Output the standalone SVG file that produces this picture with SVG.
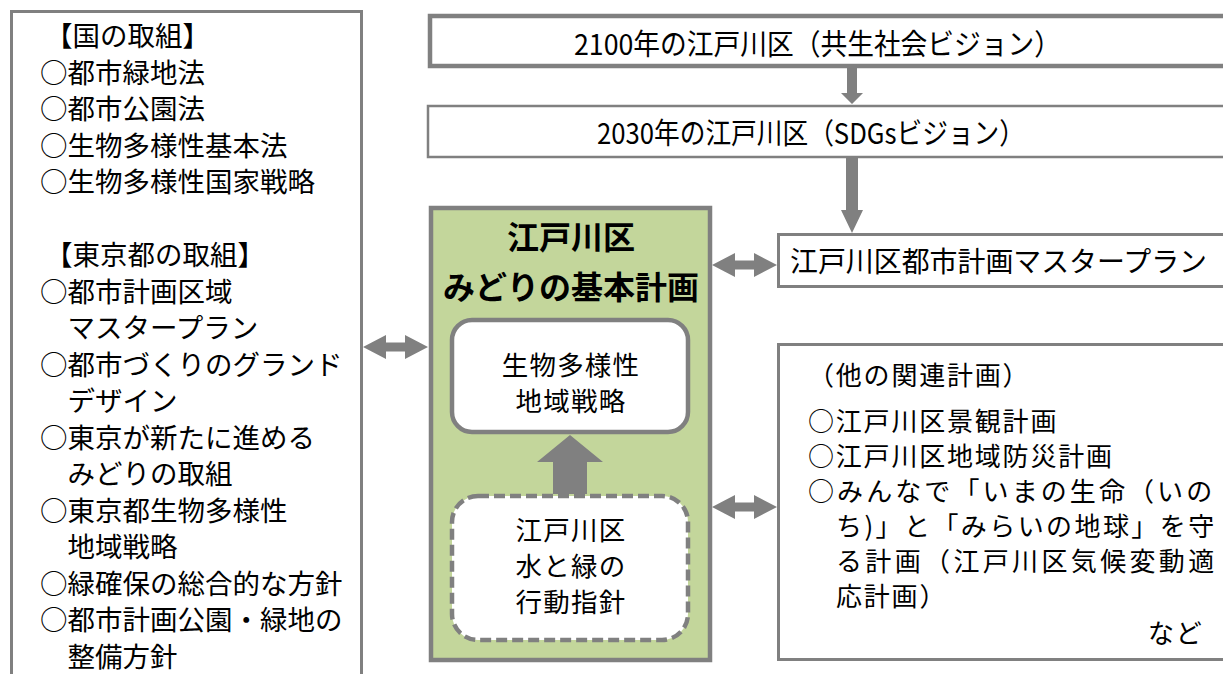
<svg xmlns="http://www.w3.org/2000/svg" width="1223" height="674" viewBox="0 0 1223 674">
<style>
text{font-family:"Noto Sans CJK JP","Noto Sans",sans-serif;fill:#000}
.box{fill:#fff;stroke:#808080}
.l{font-size:27.5px}
.r{font-size:26px;letter-spacing:1.8px}
.c{font-size:26.5px;letter-spacing:1.2px;text-anchor:middle}
.t{font-size:32px;font-weight:bold;text-anchor:middle}
.top{font-size:29px}
.arr{fill:#808080}
</style>
<rect width="1223" height="674" fill="#fff"/>

<g id="node-national-tokyo">
<rect class="box" x="11.5" y="11.5" width="350" height="700" stroke-width="3"/>
<text class="l" x="45" y="46">【国の取組】</text>
<text class="l" x="40" y="82.5">○都市緑地法</text>
<text class="l" x="40" y="119">○都市公園法</text>
<text class="l" x="40" y="155.5">○生物多様性基本法</text>
<text class="l" x="40" y="192">○生物多様性国家戦略</text>
<text class="l" x="45" y="265">【東京都の取組】</text>
<text class="l" x="40" y="301.5">○都市計画区域</text>
<text class="l" x="67.5" y="338">マスタープラン</text>
<text class="l" x="40" y="374.5">○都市づくりのグランド</text>
<text class="l" x="67.5" y="411">デザイン</text>
<text class="l" x="40" y="447.5">○東京が新たに進める</text>
<text class="l" x="67.5" y="484">みどりの取組</text>
<text class="l" x="40" y="520.5">○東京都生物多様性</text>
<text class="l" x="67.5" y="557">地域戦略</text>
<text class="l" x="40" y="593.5">○緑確保の総合的な方針</text>
<text class="l" x="40" y="630">○都市計画公園・緑地の</text>
<text class="l" x="67.5" y="666.5">整備方針</text>
</g>

<g id="node-2100">
<rect class="box" x="430" y="16" width="820" height="50" stroke-width="4.5"/>
<text class="top" x="574" y="54.5" textLength="487" lengthAdjust="spacingAndGlyphs">2100年の江戸川区（共生社会ビジョン）</text>
</g>

<g id="node-2030">
<rect class="box" x="428" y="106" width="820" height="51" stroke-width="2.5"/>
<text class="top" x="597" y="144" textLength="428" lengthAdjust="spacingAndGlyphs">2030年の江戸川区（SDGsビジョン）</text>
</g>

<g id="node-masterplan">
<rect class="box" x="778.5" y="234.5" width="470" height="52" stroke-width="3"/>
<text x="790" y="272" font-size="28.5" textLength="417" lengthAdjust="spacingAndGlyphs">江戸川区都市計画マスタープラン</text>
</g>

<g id="node-other-plans">
<rect class="box" x="778.5" y="344.5" width="470" height="315" stroke-width="3"/>
<text class="r" x="808" y="385">（他の関連計画）</text>
<text class="r" x="808" y="431">○江戸川区景観計画</text>
<text class="r" x="808" y="466">○江戸川区地域防災計画</text>
<text class="r" x="808" y="501" textLength="406">○みんなで「いまの生命（いの</text>
<text class="r" x="836" y="536" textLength="380">ち)」と「みらいの地球」を守</text>
<text class="r" x="836" y="571" textLength="380">る計画（江戸川区気候変動適</text>
<text class="r" x="836" y="606">応計画）</text>
<text class="r" x="1148" y="643">など</text>
</g>

<g id="node-green-plan">
<rect x="431" y="208" width="279" height="452" fill="#c3d69b" stroke="#808080" stroke-width="4.5"/>
<text class="t" x="571" y="249">江戸川区</text>
<text class="t" x="571" y="299">みどりの基本計画</text>
</g>

<g id="node-biodiversity">
<rect class="box" x="452" y="320" width="236" height="112" rx="20" stroke-width="4.5"/>
<text class="c" x="571" y="375">生物多様性</text>
<text class="c" x="571" y="411">地域戦略</text>
</g>

<g id="node-action">
<rect class="box" x="452" y="496" width="236" height="144" rx="26" stroke-width="4.5" stroke-dasharray="11 5"/>
<text class="c" x="571" y="539.5">江戸川区</text>
<text class="c" x="571" y="576">水と緑の</text>
<text class="c" x="571" y="612">行動指針</text>
</g>

<g id="connectors">
<polygon class="arr" points="847,68 857,68 857,93 863,93 852,104 841,93 847,93"/>
<polygon class="arr" points="846,158 858,158 858,210 863,210 852,233 841,210 846,210"/>
<polygon class="arr" points="553,494 587,494 587,462 603,462 570,435 537,462 553,462"/>
<polygon class="arr" points="363,347 386,335 386,342.5 405,342.5 405,335 428,347 405,359 405,351.5 386,351.5 386,359"/>
<polygon class="arr" points="712,265 735,253 735,260.5 754,260.5 754,253 777,265 754,277 754,269.5 735,269.5 735,277"/>
<polygon class="arr" points="712,507 735,495 735,502.5 754,502.5 754,495 777,507 754,519 754,511.5 735,511.5 735,519"/>
</g>
</svg>
